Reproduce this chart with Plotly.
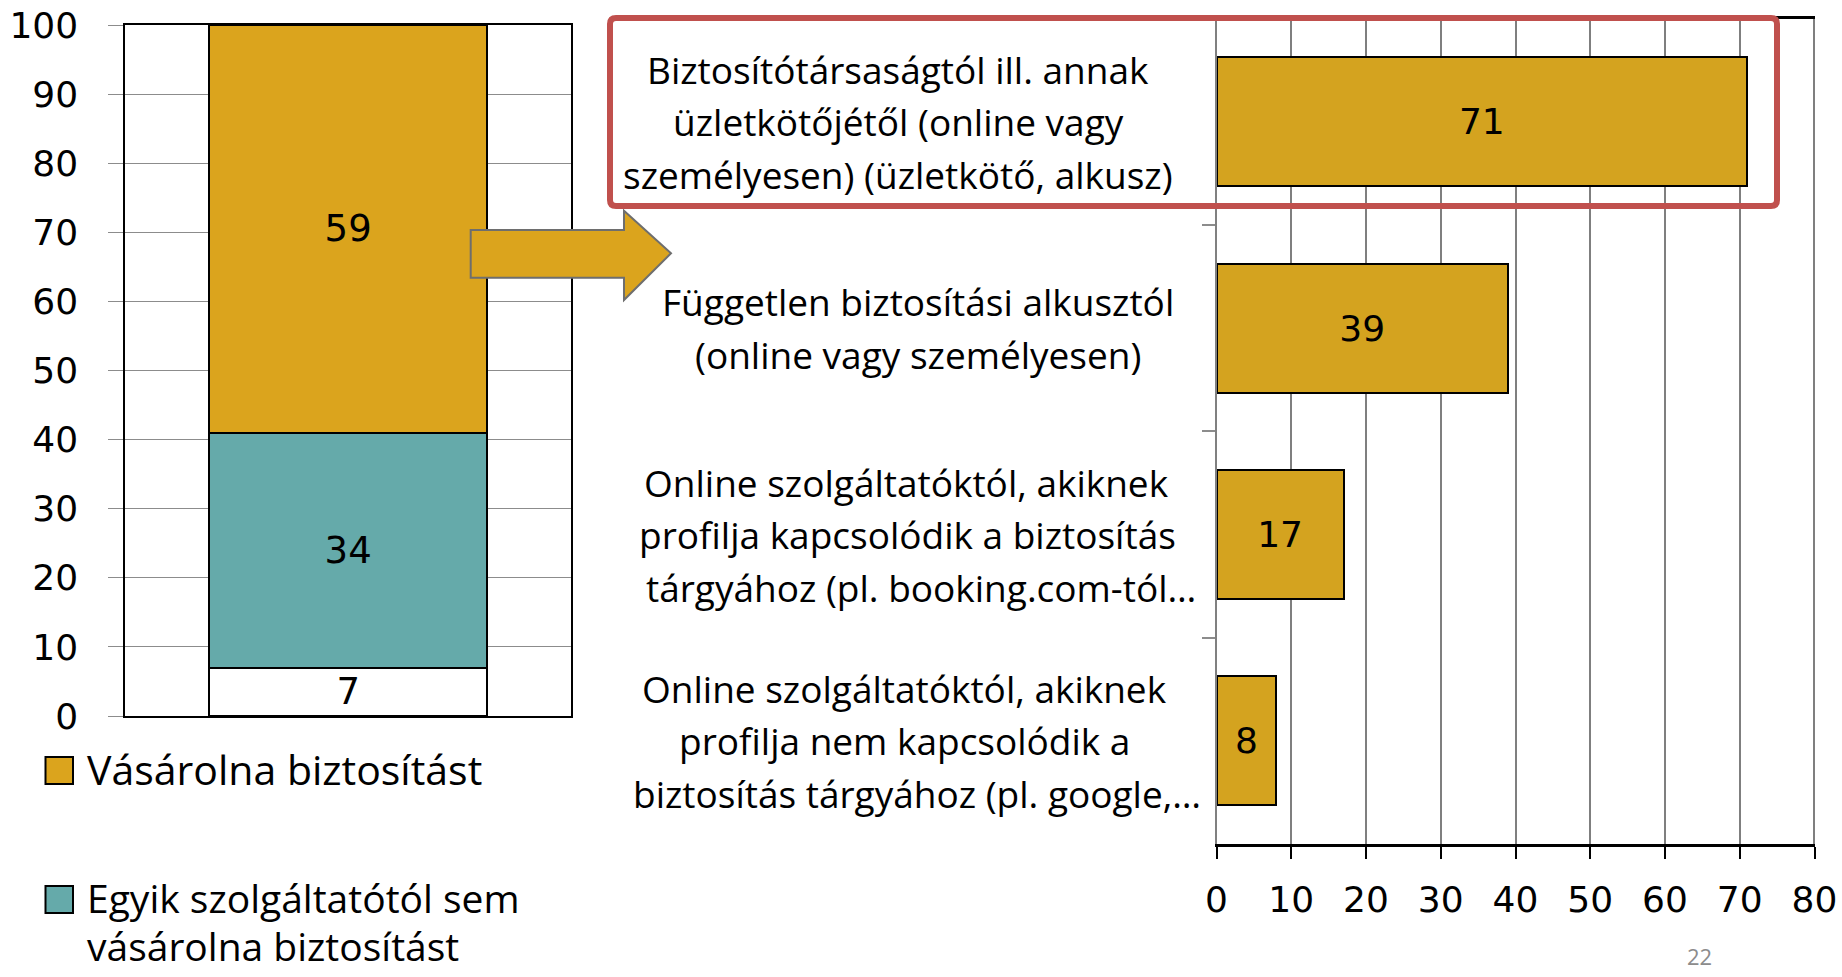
import plotly.graph_objects as go

W, H = 1842, 977

# ---------------- data ----------------
stack_category = ["Összesen"]
series_names = ["Nem tudja", "Egyik szolgáltatótól sem vásárolna biztosítást", "Vásárolna biztosítást"]
nem_tudja = [7]
egyik_sem = [34]
vasarolna = [59]
left_ticks = [0, 10, 20, 30, 40, 50, 60, 70, 80, 90, 100]

channel_lines = [
    ["Biztosítótársaságtól ill. annak", "üzletkötőjétől (online vagy", "személyesen) (üzletkötő, alkusz)"],
    ["Független biztosítási alkusztól", "(online vagy személyesen)"],
    ["Online szolgáltatóktól, akiknek", "profilja kapcsolódik a biztosítás", "tárgyához (pl. booking.com-tól…"],
    ["Online szolgáltatóktól, akiknek", "profilja nem kapcsolódik a", "biztosítás tárgyához (pl. google,…"],
]
channel_values = [71, 39, 17, 8]
right_ticks = [0, 10, 20, 30, 40, 50, 60, 70, 80]

legend_first = "Vásárolna biztosítást"
legend_second = ["Egyik szolgáltatótól sem", "vásárolna biztosítást"]
page_number = "22"

# ---------------- style ----------------
GOLD_L = "#DBA41D"
GOLD_R = "#D4A31F"
TEAL = "#65AAAA"
RED = "#C0504D"
NUM_FONT = "DejaVu Sans"
TXT_FONT = "Open Sans"


def px(x):
    return x / W


def py(y):
    return 1 - y / H


channel_cats = [" ".join(l) for l in channel_lines]

fig = go.Figure()

seg_colors = ["white", TEAL, GOLD_L]
for name, vals, col in zip(series_names, [nem_tudja, egyik_sem, vasarolna], seg_colors):
    fig.add_trace(go.Bar(
        x=stack_category, y=vals, name=name, width=0.625,
        marker=dict(color=col, line=dict(color="black", width=2)),
        text=vals, textposition="inside", insidetextanchor="middle",
        constraintext="none", textangle=0,
        textfont=dict(family=NUM_FONT, size=37, color="black"),
        xaxis="x", yaxis="y", showlegend=False, hoverinfo="skip",
    ))

fig.add_trace(go.Bar(
    x=channel_values, y=channel_cats, orientation="h", width=0.625,
    marker=dict(color=GOLD_R, line=dict(color="black", width=2)),
    text=channel_values, textposition="inside", insidetextanchor="middle",
    constraintext="none", textangle=0,
    textfont=dict(family=NUM_FONT, size=36, color="black"),
    xaxis="x2", yaxis="y2", showlegend=False, hoverinfo="skip",
))

shapes = []
# right border of right plot
shapes.append(dict(type="line", xref="x2", yref="y2 domain", x0=80, x1=80, y0=0, y1=1,
                   line=dict(color="black", width=2), layer="above"))

# block arrow
arrow_pts = [(470.7, 230), (624, 230), (624, 210.7), (671, 253.3), (624, 300), (624, 277.7), (470.7, 277.7)]
path = "M " + " L ".join(f"{px(a):.5f},{py(b):.5f}" for a, b in arrow_pts) + " Z"
shapes.append(dict(type="path", xref="paper", yref="paper", path=path,
                   fillcolor=GOLD_L, line=dict(color="#6E6E6E", width=2), layer="above"))

# red highlight box (rounded corners)
x0, y0, x1, y1, r = 610, 18, 1777, 206, 6
rb = (f"M {px(x0 + r)},{py(y0)} L {px(x1 - r)},{py(y0)} Q {px(x1)},{py(y0)} {px(x1)},{py(y0 + r)} "
      f"L {px(x1)},{py(y1 - r)} Q {px(x1)},{py(y1)} {px(x1 - r)},{py(y1)} "
      f"L {px(x0 + r)},{py(y1)} Q {px(x0)},{py(y1)} {px(x0)},{py(y1 - r)} "
      f"L {px(x0)},{py(y0 + r)} Q {px(x0)},{py(y0)} {px(x0 + r)},{py(y0)} Z")
shapes.append(dict(type="path", xref="paper", yref="paper", path=rb,
                   line=dict(color=RED, width=6), layer="above"))

# legend squares
for (sy0, sy1), col in zip([(757, 784), (886, 913)], [GOLD_L, TEAL]):
    shapes.append(dict(type="rect", xref="paper", yref="paper",
                       x0=px(45.5), x1=px(73), y0=py(sy1), y1=py(sy0),
                       fillcolor=col, line=dict(color="black", width=2)))

annotations = []
line_x = [[898, 898, 898], [918, 918], [906, 907, 921], [904, 904, 917]]
LINE_H = 52.5
for cat, lines, xs in zip(channel_cats, channel_lines, line_x):
    mid = (len(lines) - 1) / 2
    for i, (ln, lx) in enumerate(zip(lines, xs)):
        annotations.append(dict(
            text=ln, xref="paper", yref="y2", x=px(lx), y=cat,
            xanchor="center", yanchor="middle", yshift=(mid - i) * LINE_H,
            showarrow=False, font=dict(family=TXT_FONT, size=37, color="black")))

annotations.append(dict(text=legend_first, xref="paper", yref="paper", x=px(85), y=py(769),
                        xanchor="left", yanchor="middle", showarrow=False,
                        font=dict(family=TXT_FONT, size=41, color="black")))
for i, ln in enumerate(legend_second):
    annotations.append(dict(text=ln, xref="paper", yref="paper", x=px(85), y=py(897 + 48 * i),
                            xanchor="left", yanchor="middle", showarrow=False,
                            font=dict(family=TXT_FONT, size=39, color="black")))

annotations.append(dict(text=page_number, xref="paper", yref="paper", x=px(1699), y=py(956),
                        xanchor="center", yanchor="middle", showarrow=False,
                        font=dict(family=TXT_FONT, size=22, color="#8C8C8C")))

fig.update_layout(
    width=W, height=H, autosize=False,
    margin=dict(l=0, r=0, t=0, b=0, pad=0, autoexpand=False),
    paper_bgcolor="white", plot_bgcolor="white",
    barmode="stack", bargap=0.375,
    showlegend=False,
    xaxis=dict(domain=[px(125.3), px(571)], range=[-0.5, 0.5], type="category",
               showticklabels=False, ticks="", showgrid=False, zeroline=False, automargin=False,
               showline=True, linecolor="black", linewidth=2, mirror=True, anchor="y", fixedrange=True),
    yaxis=dict(domain=[py(716), py(25)], range=[0, 100], tickvals=left_ticks,
               ticks="outside", ticklen=15, tickcolor="#8C8C8C", tickwidth=1.2,
               showgrid=True, gridcolor="#8C8C8C", gridwidth=1.2, zeroline=False, automargin=False,
               showline=True, linecolor="black", linewidth=2, mirror=True,
               tickfont=dict(family=NUM_FONT, size=36, color="black"),
               ticklabelstandoff=23, anchor="x", fixedrange=True),
    xaxis2=dict(domain=[px(1216.5), px(1814.5)], range=[0, 80], tickvals=right_ticks,
                ticks="outside", ticklen=12, tickcolor="black", tickwidth=1.5,
                showgrid=True, gridcolor="#7F7F7F", gridwidth=1.5, zeroline=False, automargin=False,
                showline=True, linecolor="black", linewidth=2.5, mirror=True,
                tickfont=dict(family=NUM_FONT, size=36, color="black"),
                ticklabelstandoff=10, anchor="y2", fixedrange=True),
    yaxis2=dict(domain=[py(844), py(18.7)], type="category", categoryorder="array",
                categoryarray=channel_cats, autorange="reversed",
                tickson="boundaries", ticks="outside", ticklen=13, tickcolor="#8C8C8C", tickwidth=1.5,
                showticklabels=False, showgrid=False, zeroline=False, automargin=False,
                showline=True, linecolor="#808080", linewidth=2, anchor="x2", fixedrange=True),
    shapes=shapes,
    annotations=annotations,
)

fig.write_html("out.html", config={"displayModeBar": False},
               post_script="document.body.style.margin='0';document.body.style.overflow='hidden';")
